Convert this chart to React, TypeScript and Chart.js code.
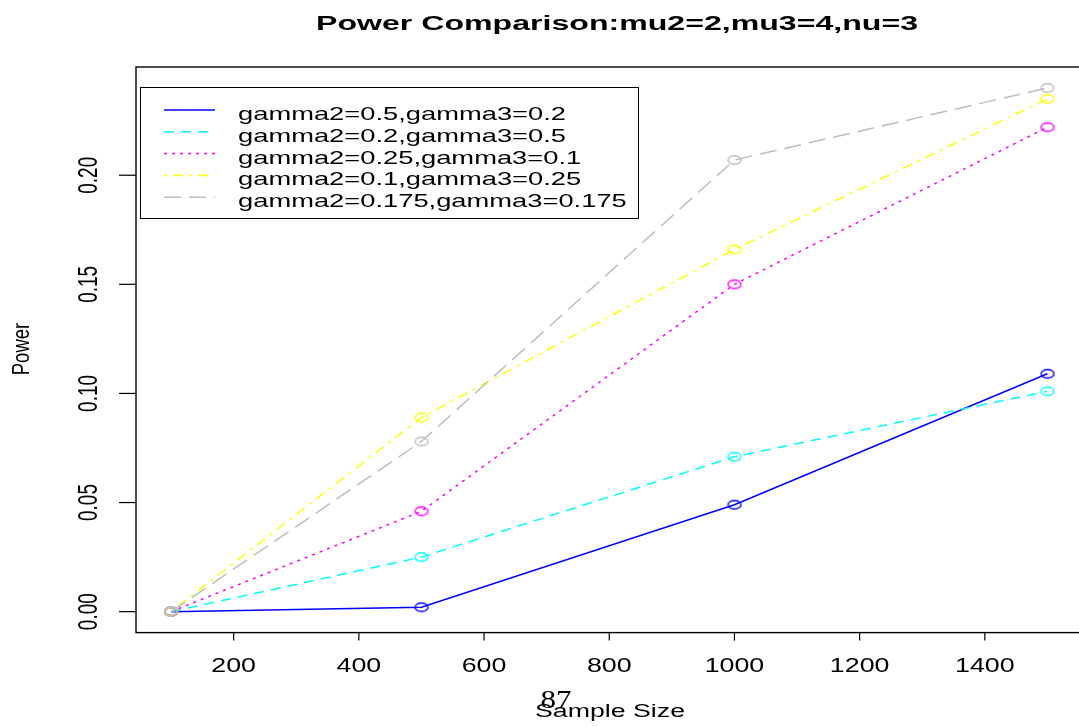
import React, { useEffect, useRef } from "react";
import { Chart, registerables } from "chart.js";

Chart.register(...registerables);

const sampleSizes = [100, 500, 1000, 1500];
const powerA = [0, 0.002, 0.049, 0.109];
const powerB = [0, 0.025, 0.071, 0.101];
const powerC = [0, 0.046, 0.15, 0.222];
const powerD = [0, 0.089, 0.166, 0.235];
const powerE = [0, 0.078, 0.207, 0.24];
const seriesLabels = [
  "gamma2=0.5,gamma3=0.2",
  "gamma2=0.2,gamma3=0.5",
  "gamma2=0.25,gamma3=0.1",
  "gamma2=0.1,gamma3=0.25",
  "gamma2=0.175,gamma3=0.175",
];
const seriesValues = [powerA, powerB, powerC, powerD, powerE];
const seriesColors = ["#0000FF", "#00FFFF", "#FF00FF", "#FFFF00", "#BEBEBE"];
const seriesDashes: number[][] = [[], [10, 7], [3, 5], [3, 6, 10, 6], [17, 8]];
const xTickValues = [200, 400, 600, 800, 1000, 1200, 1400];
const yTickValues = [0, 0.05, 0.1, 0.15, 0.2];
const yTickLabels = ["0.00", "0.05", "0.10", "0.15", "0.20"];
const titleText = "Power Comparison:mu2=2,mu3=4,nu=3";
const xTitle = "Sample Size";
const yTitle = "Power";
const pageNumber = "87";

const SANS = '"Liberation Sans", Arial, Helvetica, sans-serif';
const SERIF = '"Liberation Serif", "Times New Roman", serif';

function makeEllipse(color: string): HTMLCanvasElement {
  const c = document.createElement("canvas");
  c.width = 18;
  c.height = 12;
  const g = c.getContext("2d")!;
  g.strokeStyle = color;
  g.lineWidth = 1.4;
  g.beginPath();
  g.ellipse(9, 6, 6.5, 4.3, 0, 0, Math.PI * 2);
  g.stroke();
  return c;
}

function stretchText(
  ctx: CanvasRenderingContext2D,
  text: string,
  x: number,
  y: number,
  font: string,
  sx: number,
  align: CanvasTextAlign,
  rotate = false
) {
  ctx.save();
  ctx.font = font;
  ctx.textAlign = align;
  ctx.textBaseline = "alphabetic";
  ctx.translate(x, y);
  ctx.scale(sx, 1);
  if (rotate) ctx.rotate(-Math.PI / 2);
  ctx.fillText(text, 0, 0);
  ctx.restore();
}

function fitScale(ctx: CanvasRenderingContext2D, text: string, font: string, target: number) {
  ctx.save();
  ctx.font = font;
  const w = ctx.measureText(text).width;
  ctx.restore();
  return target / w;
}

const decorPlugin = {
  id: "rDecor",
  afterDraw(chart: any) {
    const ctx: CanvasRenderingContext2D = chart.ctx;
    const xs = chart.scales.x;
    const ys = chart.scales.y;
    const a = chart.chartArea;
    ctx.save();
    ctx.fillStyle = "#000";
    ctx.strokeStyle = "#000";

    // box
    ctx.lineWidth = 1.4;
    ctx.setLineDash([]);
    ctx.strokeRect(a.left, a.top, a.right - a.left, a.bottom - a.top);

    // x ticks
    const xFont = `19.5px ${SANS}`;
    const xsx = fitScale(ctx, "200", xFont, 44.7);
    xTickValues.forEach((v) => {
      const px = xs.getPixelForValue(v);
      ctx.beginPath();
      ctx.moveTo(px, a.bottom);
      ctx.lineTo(px, a.bottom + 8);
      ctx.lineWidth = 1.2;
      ctx.stroke();
      stretchText(ctx, String(v), px, 672, xFont, xsx, "center");
    });

    // y ticks
    const yFont = `19px ${SANS}`;
    yTickValues.forEach((v, i) => {
      const py = ys.getPixelForValue(v);
      ctx.beginPath();
      ctx.moveTo(a.left, py);
      ctx.lineTo(a.left - 17, py);
      ctx.lineWidth = 1.2;
      ctx.stroke();
      stretchText(ctx, yTickLabels[i], 97, py, yFont, 1.42, "center", true);
    });

    // title
    const tFont = `bold 20px ${SANS}`;
    stretchText(ctx, titleText, 617, 29.5, tFont, fitScale(ctx, titleText, tFont, 602), "center");

    // axis titles
    const aFont = `18px ${SANS}`;
    stretchText(ctx, xTitle, 610, 717, aFont, fitScale(ctx, xTitle, aFont, 150), "center");
    stretchText(ctx, yTitle, 29, 349, `18.5px ${SANS}`, 1.3, "center", true);

    // page number
    const pFont = `26px ${SERIF}`;
    stretchText(ctx, pageNumber, 556, 708, pFont, fitScale(ctx, pageNumber, pFont, 31), "center");

    // legend
    ctx.lineWidth = 1;
    ctx.strokeStyle = "#000";
    ctx.setLineDash([]);
    ctx.strokeRect(140.5, 87.5, 498, 131);
    const lFont = `18.5px ${SANS}`;
    const lsx = fitScale(ctx, seriesLabels[0], lFont, 328);
    seriesLabels.forEach((lab, i) => {
      const ly = 110 + i * 21.8;
      ctx.save();
      ctx.strokeStyle = seriesColors[i];
      ctx.lineWidth = 1.5;
      ctx.setLineDash(seriesDashes[i]);
      ctx.beginPath();
      ctx.moveTo(164, ly);
      ctx.lineTo(215, ly);
      ctx.stroke();
      ctx.restore();
      ctx.fillStyle = "#000";
      stretchText(ctx, lab, 238, ly + 10, lFont, lsx, "left");
    });
    ctx.restore();
  },
};

export default function App() {
  const ref = useRef<HTMLCanvasElement | null>(null);
  useEffect(() => {
    if (!ref.current) return;
    const datasets = seriesValues.map((vals, i) => ({
      label: seriesLabels[i],
      data: sampleSizes.map((s, j) => ({ x: s, y: vals[j] })),
      borderColor: seriesColors[i],
      backgroundColor: seriesColors[i],
      borderWidth: 1.5,
      borderDash: seriesDashes[i],
      pointStyle: makeEllipse(seriesColors[i]) as any,
      pointRadius: 6,
      tension: 0,
      fill: false,
      order: seriesValues.length - i,
      clip: false as any,
    }));
    const chart = new Chart(ref.current, {
      type: "line",
      data: { datasets },
      options: {
        responsive: false,
        animation: false,
        devicePixelRatio: 1,
        layout: { padding: { left: 136, right: 5, top: 67, bottom: 93.4 } },
        plugins: { legend: { display: false }, title: { display: false }, tooltip: { enabled: false } },
        scales: {
          x: { type: "linear", min: 44, max: 1556, display: false },
          y: { type: "linear", min: -0.0096, max: 0.2496, display: false },
        },
      },
      plugins: [decorPlugin],
    });
    return () => chart.destroy();
  }, []);
  return (
    <div
      style={{
        position: "absolute",
        left: 0,
        top: 0,
        width: 1079,
        height: 726,
        overflow: "hidden",
        background: "#fff",
      }}
    >
      <canvas ref={ref} width={1090} height={726} style={{ display: "block" }} />
    </div>
  );
}
